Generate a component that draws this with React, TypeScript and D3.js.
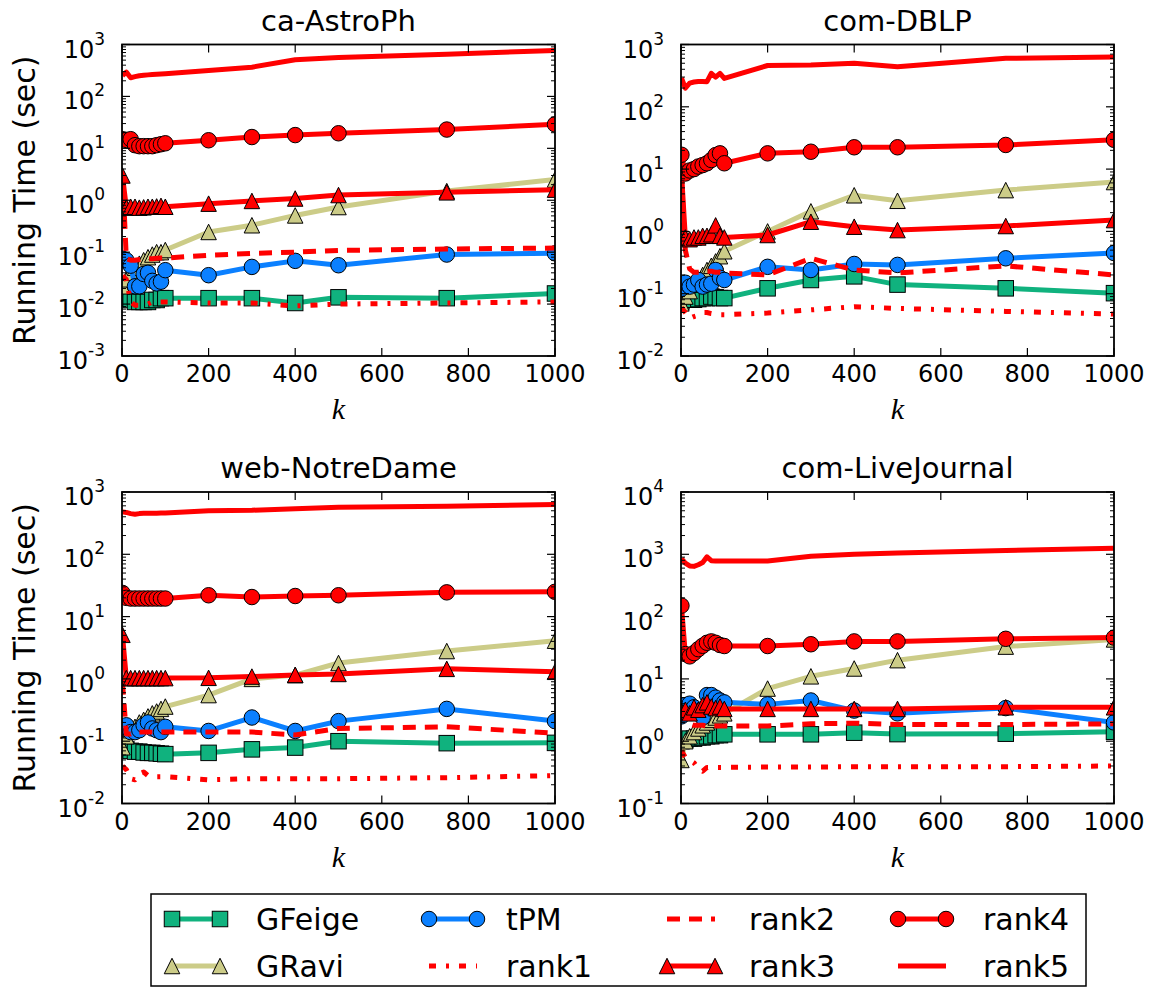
import React from 'react';
import * as d3 from 'd3';

// ---------- data ----------
const K = [1, 10, 20, 30, 40, 50, 60, 70, 80, 90, 100, 200, 300, 400, 500, 750, 1000];
const X_TICKS = [0, 200, 400, 600, 800, 1000];
const SERIES_NAMES = ['GFeige', 'GRavi', 'tPM', 'rank1', 'rank2', 'rank3', 'rank4', 'rank5'];
const PANEL_TITLES = ['ca-AstroPh', 'com-DBLP', 'web-NotreDame', 'com-LiveJournal'];
const PANEL_EXPONENTS = [[-3, 3], [-2, 3], [-2, 3], [-1, 4]];

// ca-AstroPh
const astroGFeige = [0.014, 0.013, 0.012, 0.011, 0.011, 0.011, 0.011, 0.012, 0.012, 0.013, 0.013, 0.013, 0.013, 0.0105, 0.0135, 0.013, 0.016];
const astroGRavi = [0.022, 0.03, 0.04, 0.05, 0.06, 0.07, 0.08, 0.09, 0.1, 0.1, 0.11, 0.245, 0.33, 0.51, 0.74, 1.5, 2.5];
const astroTPM = [0.075, 0.07, 0.055, 0.022, 0.022, 0.038, 0.04, 0.028, 0.025, 0.027, 0.045, 0.036, 0.052, 0.068, 0.056, 0.09, 0.095];
const astroRank1 = [0.035, 0.03, 0.011, 0.0095, 0.0095, 0.01, 0.01, 0.011, 0.011, 0.011, 0.011, 0.0105, 0.0105, 0.0092, 0.01, 0.0105, 0.011];
const astroRank2 = [3.5, 0.075, 0.07, 0.07, 0.072, 0.075, 0.075, 0.075, 0.076, 0.077, 0.077, 0.087, 0.095, 0.1, 0.108, 0.115, 0.12];
const astroRank3 = [3.0, 0.72, 0.75, 0.75, 0.72, 0.73, 0.75, 0.75, 0.76, 0.78, 0.75, 0.86, 0.97, 1.08, 1.26, 1.42, 1.6];
const astroRank4 = [15, 14.5, 15, 11.5, 11, 11, 11, 11, 11.5, 12, 12.5, 14.3, 16.5, 18, 19.5, 23, 29];
const astroRank5 = [252, 294, 229, 240, 250, 255, 260, 265, 268, 270, 273, 316, 366, 507, 560, 650, 770];

// com-DBLP
const dblpGFeige = [0.075, 0.08, 0.085, 0.08, 0.082, 0.085, 0.085, 0.09, 0.088, 0.085, 0.085, 0.122, 0.166, 0.19, 0.14, 0.122, 0.102];
const dblpGRavi = [0.07, 0.09, 0.11, 0.14, 0.17, 0.2, 0.24, 0.28, 0.33, 0.4, 0.48, 1.0, 2.1, 3.8, 3.1, 4.6, 6.2];
const dblpTPM = [0.12, 0.15, 0.13, 0.14, 0.166, 0.13, 0.14, 0.145, 0.24, 0.18, 0.166, 0.27, 0.24, 0.3, 0.29, 0.37, 0.45];
const dblpRank1 = [0.06, 0.05, 0.04, 0.043, 0.045, 0.05, 0.05, 0.048, 0.047, 0.046, 0.046, 0.049, 0.055, 0.062, 0.058, 0.052, 0.047];
const dblpRank2 = [7, 0.5, 0.25, 0.22, 0.22, 0.22, 0.23, 0.23, 0.22, 0.22, 0.215, 0.2, 0.37, 0.24, 0.215, 0.28, 0.2];
const dblpRank3 = [9, 0.8, 0.75, 0.8, 0.8, 0.85, 0.85, 0.9, 1.25, 0.85, 0.8, 0.875, 1.43, 1.19, 1.05, 1.22, 1.52];
const dblpRank4 = [17, 8.5, 9.5, 10, 11, 11.6, 12.4, 14, 16.8, 17.9, 12.4, 17.9, 19, 22.4, 22.4, 24.4, 29.5];
const dblpRank5 = [290, 200, 240, 250, 255, 255, 253, 345, 300, 345, 286, 460, 470, 499, 440, 600, 630];

// web-NotreDame
const ndGFeige = [0.075, 0.075, 0.07, 0.068, 0.068, 0.066, 0.065, 0.065, 0.064, 0.063, 0.062, 0.065, 0.074, 0.079, 0.1, 0.093, 0.094];
const ndGRavi = [0.08, 0.12, 0.15, 0.17, 0.2, 0.22, 0.25, 0.28, 0.3, 0.33, 0.36, 0.55, 1.0, 1.15, 1.8, 2.8, 4.1];
const ndTPM = [0.17, 0.18, 0.14, 0.14, 0.15, 0.18, 0.2, 0.16, 0.15, 0.14, 0.17, 0.146, 0.24, 0.146, 0.21, 0.33, 0.21];
const ndRank1 = [0.04, 0.035, 0.025, 0.024, 0.03, 0.032, 0.028, 0.027, 0.027, 0.027, 0.027, 0.024, 0.025, 0.025, 0.025, 0.026, 0.028];
const ndRank2 = [0.9, 0.13, 0.13, 0.14, 0.14, 0.14, 0.14, 0.14, 0.14, 0.14, 0.14, 0.14, 0.14, 0.126, 0.16, 0.17, 0.135];
const ndRank3 = [5.1, 1.03, 1.03, 1.03, 1.03, 1.03, 1.03, 1.03, 1.03, 1.03, 1.03, 1.04, 1.09, 1.16, 1.2, 1.45, 1.3];
const ndRank4 = [24, 20, 19.5, 19.5, 19.5, 19.5, 19.5, 19.5, 19.5, 19.5, 19.5, 22, 20.6, 21.4, 22, 24.5, 25];
const ndRank5 = [480, 470, 450, 440, 450, 455, 455, 455, 458, 460, 460, 500, 510, 540, 570, 590, 630];

// com-LiveJournal
const ljGFeige = [1.0, 1.05, 1.1, 1.1, 1.15, 1.15, 1.2, 1.2, 1.25, 1.25, 1.29, 1.29, 1.29, 1.37, 1.3, 1.32, 1.42];
const ljGRavi = [0.5, 1.0, 1.2, 1.4, 1.6, 1.8, 2.0, 2.2, 2.4, 2.6, 2.8, 7.0, 11, 14.7, 20, 33, 43];
const ljTPM = [2.5, 3.8, 4.0, 3.5, 3.0, 2.4, 5.5, 5.5, 5.0, 4.5, 4.2, 3.9, 4.5, 3.1, 2.8, 3.4, 2.0];
const ljRank1 = [0.7, 0.55, 0.5, 0.45, 0.36, 0.33, 0.38, 0.38, 0.38, 0.38, 0.38, 0.385, 0.385, 0.39, 0.39, 0.39, 0.4];
const ljRank2 = [3.5, 2.2, 1.9, 1.8, 1.8, 1.8, 1.75, 1.75, 1.75, 1.75, 1.75, 1.75, 1.9, 1.95, 1.85, 1.85, 1.9];
const ljRank3 = [3.0, 3.2, 2.8, 3.5, 3.2, 3.8, 4.2, 3.6, 3.4, 3.6, 3.3, 3.3, 3.3, 3.3, 3.3, 3.5, 3.5];
const ljRank4 = [150, 25, 23, 26, 30, 34, 38, 40, 38, 35, 33.7, 33.7, 36, 40, 40, 44, 46];
const ljRank5 = [850, 720, 650, 640, 680, 740, 910, 790, 780, 780, 780, 780, 930, 1000, 1050, 1150, 1250];

const PANEL_DATA = [
  [astroGFeige, astroGRavi, astroTPM, astroRank1, astroRank2, astroRank3, astroRank4, astroRank5],
  [dblpGFeige, dblpGRavi, dblpTPM, dblpRank1, dblpRank2, dblpRank3, dblpRank4, dblpRank5],
  [ndGFeige, ndGRavi, ndTPM, ndRank1, ndRank2, ndRank3, ndRank4, ndRank5],
  [ljGFeige, ljGRavi, ljTPM, ljRank1, ljRank2, ljRank3, ljRank4, ljRank5],
];

// ---------- styles ----------
const GREEN = '#10b27e';
const BLUE = '#0b80ff';
const KHAKI = '#cccc88';
const RED = '#ff0000';
const STYLES: Record<string, { color: string; marker: string | null; dash: string | null }> = {
  GFeige: { color: GREEN, marker: 'square', dash: null },
  GRavi: { color: KHAKI, marker: 'triangle', dash: null },
  tPM: { color: BLUE, marker: 'circle', dash: null },
  rank1: { color: RED, marker: null, dash: '7 10 3 10' },
  rank2: { color: RED, marker: null, dash: '13 9' },
  rank3: { color: RED, marker: 'triangle', dash: null },
  rank4: { color: RED, marker: 'circle', dash: null },
  rank5: { color: RED, marker: null, dash: null },
};

const W = 433;
const H = 311.5;
const LAYOUT = [
  { left: 122, top: 44.5 },
  { left: 681, top: 44.5 },
  { left: 122, top: 492 },
  { left: 681, top: 492 },
];
const FONT = "'DejaVu Sans', sans-serif";
const LW = 5;
const MS = 15.5;

function Marker({ kind, cx, cy, color }: { kind: string; cx: number; cy: number; color: string }) {
  const h = MS / 2;
  if (kind === 'square') return <rect x={cx - h} y={cy - h} width={MS} height={MS} fill={color} stroke="#000" strokeWidth={1} />;
  if (kind === 'circle') return <circle cx={cx} cy={cy} r={h} fill={color} stroke="#000" strokeWidth={1} />;
  if (kind === 'triangle')
    return <path d={`M${cx},${cy - h}L${cx + h},${cy + h}L${cx - h},${cy + h}Z`} fill={color} stroke="#000" strokeWidth={1} strokeLinejoin="miter" />;
  return null;
}

function Panel({ idx }: { idx: number }) {
  const { left, top } = LAYOUT[idx];
  const [lo, hi] = PANEL_EXPONENTS[idx];
  const x = d3.scaleLinear().domain([0, 1000]).range([left, left + W]);
  const y = d3.scaleLog().domain([Math.pow(10, lo), Math.pow(10, hi)]).range([top + H, top]);
  const line = d3.line<number>().x((_, i) => x(K[i])).y((d) => y(d));
  const clipId = `clip${idx}`;
  const majors: number[] = [];
  const minors: number[] = [];
  for (let e = lo; e <= hi; e++) {
    majors.push(e);
    if (e < hi) for (let m = 2; m <= 9; m++) minors.push(m * Math.pow(10, e));
  }
  const bottom = top + H;
  return (
    <g>
      <defs>
        <clipPath id={clipId}>
          <rect x={left} y={top} width={W} height={H} />
        </clipPath>
      </defs>
      <g clipPath={`url(#${clipId})`}>
        {SERIES_NAMES.map((name, si) => {
          const st = STYLES[name];
          const vals = PANEL_DATA[idx][si];
          return (
            <g key={name}>
              <path d={line(vals) || ''} fill="none" stroke={st.color} strokeWidth={LW} strokeDasharray={st.dash || undefined} strokeLinejoin="round" strokeLinecap="butt" />
              {st.marker && vals.map((v, i) => <Marker key={i} kind={st.marker as string} cx={x(K[i])} cy={y(v)} color={st.color} />)}
            </g>
          );
        })}
      </g>
      {/* frame */}
      <rect x={left} y={top} width={W} height={H} fill="none" stroke="#000" strokeWidth={1.8} />
      {/* x ticks */}
      {X_TICKS.map((t) => (
        <g key={t}>
          <line x1={x(t)} x2={x(t)} y1={bottom} y2={bottom - 8} stroke="#000" strokeWidth={1.2} />
          <line x1={x(t)} x2={x(t)} y1={top} y2={top + 8} stroke="#000" strokeWidth={1.2} />
          <text x={x(t)} y={bottom + 26} textAnchor="middle" fontSize={24} fontFamily={FONT}>
            {t}
          </text>
        </g>
      ))}
      {/* y ticks */}
      {majors.map((e) => {
        const yy = y(Math.pow(10, e));
        return (
          <g key={e}>
            <line x1={left} x2={left + 8} y1={yy} y2={yy} stroke="#000" strokeWidth={1.2} />
            <line x1={left + W} x2={left + W - 8} y1={yy} y2={yy} stroke="#000" strokeWidth={1.2} />
            <text x={left - 17} y={yy + 13} textAnchor="end" fontSize={24} fontFamily={FONT}>
              10
              <tspan dy={-13} fontSize={17}>
                {e < 0 ? '-' + Math.abs(e) : String(e)}
              </tspan>
            </text>
          </g>
        );
      })}
      {minors.map((v, i) => {
        const yy = y(v);
        return (
          <g key={'m' + i}>
            <line x1={left} x2={left + 4} y1={yy} y2={yy} stroke="#000" strokeWidth={1} />
            <line x1={left + W} x2={left + W - 4} y1={yy} y2={yy} stroke="#000" strokeWidth={1} />
          </g>
        );
      })}
      {/* title */}
      <text x={left + W / 2} y={top - 14} textAnchor="middle" fontSize={29} fontFamily={FONT}>
        {PANEL_TITLES[idx]}
      </text>
      {/* x label */}
      <text x={left + W / 2} y={bottom + 63} textAnchor="middle" fontSize={30} fontStyle="italic" fontFamily="'Liberation Serif', 'DejaVu Serif', serif">
        k
      </text>
      {/* y label */}
      {idx % 2 === 0 && (
        <text transform={`translate(35,${top + H / 2}) rotate(-90)`} textAnchor="middle" fontSize={30} fontFamily={FONT}>
          Running Time (sec)
        </text>
      )}
    </g>
  );
}

const LEGEND_COLS = [
  { hx: 172, tx: 256, names: ['GFeige', 'GRavi'] },
  { hx: 429, tx: 506, names: ['tPM', 'rank1'] },
  { hx: 667, tx: 749, names: ['rank2', 'rank3'] },
  { hx: 898, tx: 983, names: ['rank4', 'rank5'] },
];
const LEGEND_ROWS = [919, 966];

function Legend() {
  const len = 48;
  return (
    <g>
      <rect x={151} y={894} width={935} height={92} fill="#fff" stroke="#000" strokeWidth={1.5} />
      {LEGEND_COLS.map((c) =>
        c.names.map((name, r) => {
          const st = STYLES[name];
          const yy = LEGEND_ROWS[r];
          return (
            <g key={name}>
              <line x1={c.hx} x2={c.hx + len} y1={yy} y2={yy} stroke={st.color} strokeWidth={LW} strokeDasharray={st.dash || undefined} />
              {st.marker && (
                <>
                  <Marker kind={st.marker} cx={c.hx} cy={yy} color={st.color} />
                  <Marker kind={st.marker} cx={c.hx + len} cy={yy} color={st.color} />
                </>
              )}
              <text x={c.tx} y={yy + 11} fontSize={30} fontFamily={FONT}>
                {name}
              </text>
            </g>
          );
        })
      )}
    </g>
  );
}

export default function App() {
  return (
    <svg width={1153} height={992} style={{ position: 'absolute', left: 0, top: 0, background: '#fff' }}>
      <rect x={0} y={0} width={1153} height={992} fill="#fff" />
      {[0, 1, 2, 3].map((i) => (
        <Panel key={i} idx={i} />
      ))}
      <Legend />
    </svg>
  );
}
